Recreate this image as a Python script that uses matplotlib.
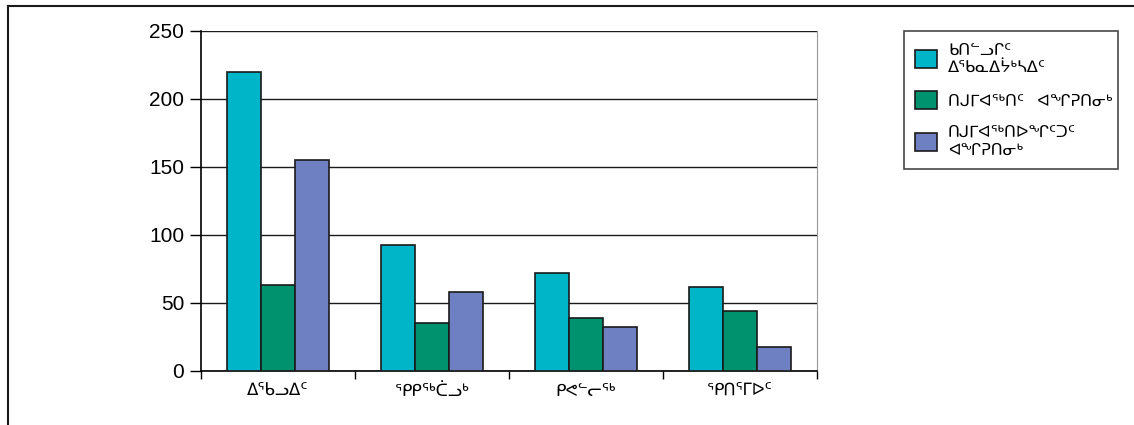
import numpy as np
import matplotlib
matplotlib.use("Agg")
import matplotlib.pyplot as plt
from matplotlib.lines import Line2D

plt.rcParams['font.family'] = ['Liberation Sans', 'DejaVu Sans']

# ---- data ----
regions = ["ᐃᖃᓗᐃᑦ", "ᕿᑭᖅᑖᓗᒃ", "ᑭᕙᓪᓕᖅ", "ᕿᑎᕐᒥᐅᑦ"]
series_names = ["ᑲᑎᓪᓗᒋᑦ\nᐃᖃᓇᐃᔮᒃᓴᐃᑦ",
                "ᑎᒍᒥᐊᖅᑎᑦ   ᐊᖏᕈᑎᓂᒃ",
                "ᑎᒍᒥᐊᖅᑎᐅᖏᑦᑐᑦ\nᐊᖏᕈᑎᓂᒃ"]
total_workers = [220, 93, 72, 62]
holders = [63, 35, 39, 44]
non_holders = [155, 58, 32, 18]
colors = ["#00b5c8", "#00916f", "#6f80c2"]
y_ticks = [0, 50, 100, 150, 200, 250]

# ---- figure ----
fig = plt.figure(figsize=(11.34, 4.25), dpi=100)
ax = fig.add_axes([201/1134, 1 - 371/425, (817-201)/1134, 340/425])

x = np.arange(len(regions))
w = 0.222
for i, vals in enumerate([total_workers, holders, non_holders]):
    ax.bar(x + (i - 1) * w, vals, width=w, color=colors[i], edgecolor="#1a1a1a",
           linewidth=1.2, label=series_names[i], zorder=3)

ax.set_xlim(-0.5, len(regions) - 0.5)
ax.set_ylim(0, 250)
ax.set_yticks(y_ticks)
ax.tick_params(axis="y", labelsize=15, length=8, width=1, direction="out", pad=4)
ax.yaxis.grid(True, color="#1a1a1a", linewidth=1, zorder=0)

ax.set_xticks(np.arange(len(regions) + 1) - 0.5)
ax.set_xticklabels([])
ax.tick_params(axis="x", length=6, width=1, direction="out")
ax.set_xticks(x, minor=True)
ax.set_xticklabels(regions, minor=True, fontsize=12)
ax.tick_params(axis="x", which="minor", length=0, pad=9)

ax.spines["top"].set_visible(False)
ax.spines["right"].set_color("#999999")
ax.spines["left"].set_linewidth(1.2)
ax.spines["bottom"].set_linewidth(1.2)

leg = fig.legend(loc="upper left", bbox_to_anchor=(904/1134, 1 - 31/425, (1118-904)/1134, 0.0),
                 mode="expand", fancybox=False, edgecolor="#1a1a1a", fontsize=11.7,
                 handlelength=1.3, handleheight=1.3, labelspacing=1.0, borderpad=0.7,
                 handletextpad=0.7, borderaxespad=0)
leg.get_frame().set_linewidth(1.2)

# outer border (cut off at right and bottom)
fig.add_artist(Line2D([8/1134, 8/1134], [0, 1 - 6/425], color="#1a1a1a", lw=1.5))
fig.add_artist(Line2D([8/1134, 1], [1 - 6/425, 1 - 6/425], color="#1a1a1a", lw=1.5))

fig.savefig("out.png", dpi=100)
